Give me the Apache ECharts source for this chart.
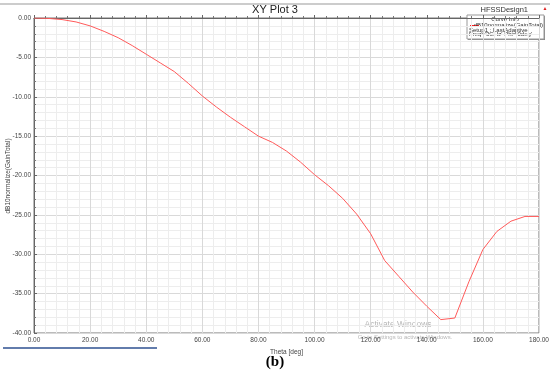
<!DOCTYPE html>
<html>
<head>
<meta charset="utf-8">
<script src="https://cdn.jsdelivr.net/npm/echarts@6/dist/echarts.min.js"></script>
<style>
html,body{margin:0;padding:0;background:#fff;}
#c{width:550px;height:370px;}
</style>
</head>
<body>
<div id="c"></div>
<script>
var theta = [0,5,10,15,20,25,30,35,40,45,50,55,60,65,70,75,80,85,90,95,100,105,110,115,120,125,130,135,140,145,150,155,160,165,170,175,180];
var gain = [0,-0.05,-0.2,-0.5,-1.0,-1.7,-2.5,-3.5,-4.6,-5.7,-6.8,-8.3,-9.9,-11.3,-12.6,-13.8,-15.0,-15.8,-16.9,-18.3,-19.9,-21.3,-22.9,-24.9,-27.4,-30.8,-32.8,-34.8,-36.6,-38.3,-38.1,-33.5,-29.4,-27.1,-25.8,-25.2,-25.2];
var xTicks = {min:0, max:180, step:20};
var yTicks = {min:-40, max:0, step:5};
var titleText = 'XY Plot 3';
var designText = 'HFSSDesign1';
var xName = 'Theta [deg]';
var yName = 'dB10normalize(GainTotal)';
var legendLines = ['Curve Info','dB10normalize(GainTotal)','Setup1 : LastAdaptive',"Freq='3GHz' Phi='0deg'"];
var caption = '(b)';

var font = 'Liberation Sans, Arial, sans-serif';
var chart = echarts.init(document.getElementById('c'), null, {renderer:'canvas'});
var pts = theta.map(function(t,i){return [t, gain[i]];});
chart.setOption({
  animation:false,
  backgroundColor:'#fff',
  grid:{left:34, right:11, top:18, bottom:37, containLabel:false, outerBoundsMode:'none', show:true, borderColor:'#777', borderWidth:1},
  xAxis:{
    type:'value', min:xTicks.min, max:xTicks.max, interval:xTicks.step,
    name:xName, nameLocation:'middle', nameGap:11,
    nameTextStyle:{fontFamily:font, fontSize:6.5, color:'#444'},
    axisLine:{show:true, lineStyle:{color:'#666', width:1}},
    axisTick:{show:true, inside:true, length:3, lineStyle:{color:'#666'}},
    minorTick:{show:true, splitNumber:5, length:2, lineStyle:{color:'#777'}},
    axisLabel:{fontFamily:font, fontSize:6.5, color:'#444', margin:4, formatter:function(v){return v.toFixed(2);}},
    splitLine:{show:true, lineStyle:{color:'#d9d9d9', width:1}},
    minorSplitLine:{show:true, lineStyle:{color:'#ededed', width:1}}
  },
  yAxis:{
    type:'value', min:yTicks.min, max:yTicks.max, interval:yTicks.step,
    axisLine:{show:true, lineStyle:{color:'#666', width:1}},
    axisTick:{show:true, inside:true, length:3, lineStyle:{color:'#666'}},
    minorTick:{show:true, splitNumber:5, length:2, lineStyle:{color:'#777'}},
    axisLabel:{fontFamily:font, fontSize:6.5, color:'#444', margin:3, formatter:function(v){return v.toFixed(2);}},
    splitLine:{show:true, lineStyle:{color:'#d9d9d9', width:1}},
    minorSplitLine:{show:true, lineStyle:{color:'#ededed', width:1}}
  },
  series:[{
    type:'line', data:pts, symbol:'none', smooth:false,
    lineStyle:{color:'#ff5a5a', width:1}
  }],
  graphic:[
    {type:'line', shape:{x1:0,y1:4,x2:550,y2:4}, style:{stroke:'#999', lineWidth:1}},
    {type:'text', x:8, y:176, rotation:Math.PI/2, style:{text:yName, font:'6.5px '+font, fill:'#444', textAlign:'center', textVerticalAlign:'middle'}},
    {type:'text', x:275, y:10, style:{text:titleText, font:'11px '+font, fill:'#222', textAlign:'center', textVerticalAlign:'middle'}},
    {type:'text', x:528, y:10, style:{text:designText, font:'7.5px '+font, fill:'#333', textAlign:'right', textVerticalAlign:'middle'}},
    {type:'text', x:545, y:9, style:{text:'\u25B2', font:'5px '+font, fill:'#d22', textAlign:'center', textVerticalAlign:'middle'}},
    {type:'rect', shape:{x:468, y:16, width:77, height:24}, style:{fill:'#888'}},
    {type:'rect', shape:{x:467, y:15, width:77, height:24}, style:{fill:'#fff', stroke:'#999', lineWidth:1}},
    {type:'text', x:505, y:19.5, style:{text:legendLines[0], font:'6px '+font, fill:'#333', textAlign:'center', textVerticalAlign:'middle'}},
    {type:'line', shape:{x1:470,y1:25.5,x2:479,y2:25.5}, style:{stroke:'#ff2020', lineWidth:1}},
    {type:'text', x:543, y:25, style:{text:legendLines[1], font:'6px '+font, fill:'#333', textAlign:'right', textVerticalAlign:'middle'}},
    {type:'text', x:469, y:30, style:{text:legendLines[2], font:'6px '+font, fill:'#333', textAlign:'left', textVerticalAlign:'middle'}},
    {type:'text', x:469, y:34.5, style:{text:legendLines[3], font:'6px '+font, fill:'#333', textAlign:'left', textVerticalAlign:'middle'}},
    {type:'text', x:398, y:325, style:{text:'Activate Windows', font:'8.5px '+font, fill:'rgba(120,120,120,0.55)', textAlign:'center', textVerticalAlign:'middle'}},
    {type:'text', x:405, y:337, style:{text:'Go to Settings to activate Windows.', font:'6px '+font, fill:'rgba(120,120,120,0.55)', textAlign:'center', textVerticalAlign:'middle'}},
    {type:'line', shape:{x1:3,y1:348,x2:157,y2:348}, style:{stroke:'#2e5090', lineWidth:1.5}},
    {type:'text', x:275, y:362, style:{text:caption, font:'bold 15px "Liberation Serif", "Times New Roman", serif', fill:'#000', textAlign:'center', textVerticalAlign:'middle'}}
  ]
});
</script>
</body>
</html>
